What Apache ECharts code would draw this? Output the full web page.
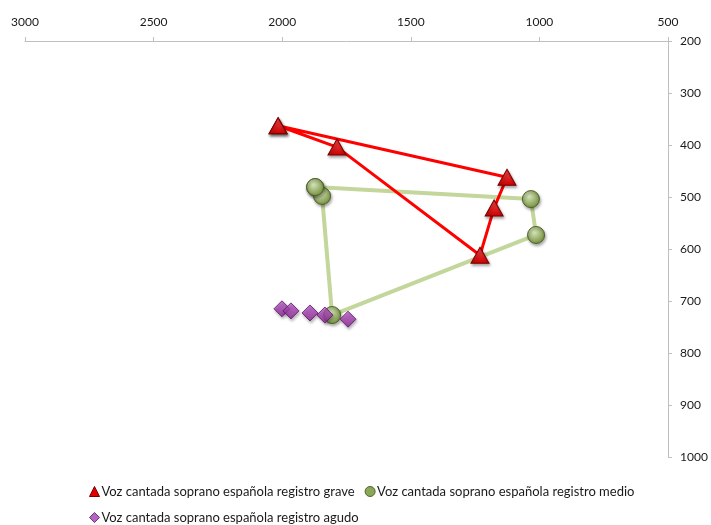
<!DOCTYPE html>
<html>
<head>
<meta charset="utf-8">
<style>html,body{margin:0;padding:0;background:#fff}#c{width:711px;height:525px}</style>
<script src="https://cdn.jsdelivr.net/npm/echarts@6/dist/echarts.min.js"></script>
</head>
<body>
<div id="c"></div>
<script>
// Data (F2 on x, F1 on y), vowel order i, e, a, o, u, i
const seriesNames = [
  'Voz cantada soprano española registro grave',
  'Voz cantada soprano española registro medio',
  'Voz cantada soprano española registro agudo'
];
const graveF2 = [2016, 1787, 1231, 1176, 1126, 2016];
const graveF1 = [363, 404, 612, 521, 462, 363];
const medioF2 = [1872, 1845, 1806, 1013, 1033, 1872];
const medioF1 = [481, 498, 727, 573, 504, 481];
const agudoF2 = [2001, 1966, 1892, 1834, 1744];
const agudoF1 = [715, 719, 723, 727, 735];
const xTicks = [500, 1000, 1500, 2000, 2500, 3000];
const yTicks = [200, 300, 400, 500, 600, 700, 800, 900, 1000];

const zip = (a, b) => a.map((v, i) => [v, b[i]]);
const FONT = 'Lato, "Open Sans", sans-serif';
const shadow = {shadowBlur: 3, shadowColor: 'rgba(0,0,0,0.35)', shadowOffsetX: 1, shadowOffsetY: 2};

const triStyle = Object.assign({
  color: new echarts.graphic.LinearGradient(0, 0, 0, 1, [{offset: 0, color: '#ff4a4a'}, {offset: 1, color: '#c80000'}]),
  borderColor: '#7a0000', borderWidth: 1
}, shadow);
const cirStyle = Object.assign({
  color: new echarts.graphic.RadialGradient(0.4, 0.35, 0.7, [{offset: 0, color: '#d6e4bb'}, {offset: 1, color: '#6f8c35'}]),
  borderColor: '#4f6228', borderWidth: 1
}, shadow);
const diaStyle = Object.assign({
  color: new echarts.graphic.LinearGradient(0, 0, 0, 1, [{offset: 0, color: '#c060d0'}, {offset: 1, color: '#8a2090'}]),
  borderColor: '#5a1466', borderWidth: 1
}, shadow);

const chart = echarts.init(document.getElementById('c'), null, {renderer: 'canvas'});
chart.setOption({
  animation: false,
  backgroundColor: '#fff',
  grid: {left: 25, right: 43, top: 41, bottom: 68, containLabel: false},
  xAxis: {
    type: 'value', position: 'top', inverse: true,
    min: xTicks[0], max: xTicks[xTicks.length - 1], interval: 500,
    axisLine: {show: true, onZero: false, lineStyle: {color: '#bfbfbf', width: 1}},
    axisTick: {show: true, length: 4, lineStyle: {color: '#bfbfbf'}},
    axisLabel: {color: '#1a1a1a', fontFamily: FONT, fontSize: 12, margin: 13, formatter: v => String(v)},
    splitLine: {show: false}
  },
  yAxis: {
    type: 'value', position: 'right', inverse: true,
    min: yTicks[0], max: yTicks[yTicks.length - 1], interval: 100,
    axisLine: {show: true, onZero: false, lineStyle: {color: '#bfbfbf', width: 1}},
    axisTick: {show: true, length: 4, lineStyle: {color: '#bfbfbf'}},
    axisLabel: {color: '#1a1a1a', fontFamily: FONT, fontSize: 12, margin: 12, formatter: v => String(v)},
    splitLine: {show: false}
  },
  legend: [
    {
      data: [
        {name: seriesNames[0], icon: 'triangle', itemStyle: {color: '#e00000', borderColor: '#7a0000', borderWidth: 1}},
        {name: seriesNames[1], icon: 'circle', itemStyle: {color: '#8aa85a', borderColor: '#4f6228', borderWidth: 1}}
      ],
      left: 84, top: 480, itemWidth: 10, itemHeight: 10, itemGap: 10,
      textStyle: {fontFamily: FONT, fontSize: 13, color: '#1a1a1a', padding: [0, 0, 0, -3]}
    },
    {
      data: [
        {name: seriesNames[2], icon: 'diamond', itemStyle: {color: '#a040b0', borderColor: '#5a1466', borderWidth: 1}}
      ],
      left: 84, top: 506, itemWidth: 10, itemHeight: 10,
      textStyle: {fontFamily: FONT, fontSize: 13, color: '#1a1a1a', padding: [0, 0, 0, -3]}
    }
  ],
  series: [
    {
      name: seriesNames[1], type: 'line', data: zip(medioF2, medioF1),
      symbol: 'circle', symbolSize: 17, z: 2,
      lineStyle: {color: '#c3d69b', width: 4},
      itemStyle: cirStyle
    },
    {
      name: seriesNames[0], type: 'line', data: zip(graveF2, graveF1),
      symbol: 'triangle', symbolSize: [18, 16], z: 3,
      lineStyle: {color: '#ff0000', width: 3},
      itemStyle: triStyle
    },
    {
      name: seriesNames[2], type: 'scatter', data: zip(agudoF2, agudoF1),
      symbol: 'diamond', symbolSize: [16, 16], z: 4,
      itemStyle: diaStyle
    }
  ]
});
</script>
</body>
</html>
